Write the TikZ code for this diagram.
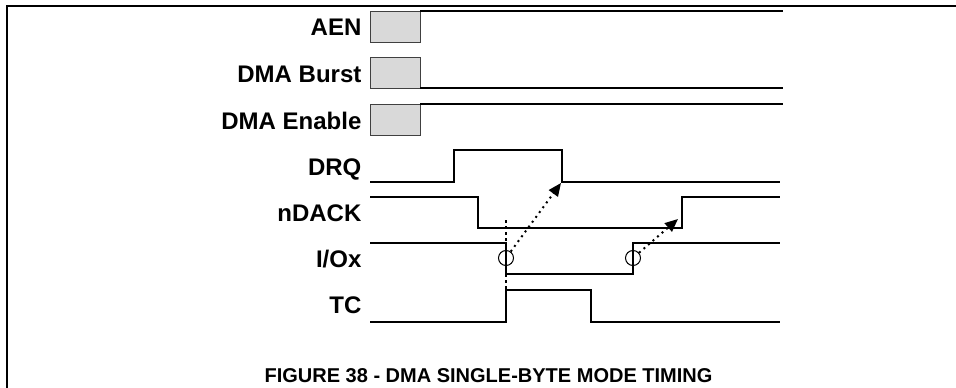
\documentclass[tikz,border=0pt]{standalone}
\usepackage{fontspec}
\setmainfont{Liberation Sans}
\usepackage{tikz}
\usetikzlibrary{arrows.meta,calc,positioning}
\usepackage{xcolor}
\definecolor{holdfill}{HTML}{D9D9D9}
\definecolor{holdline}{HTML}{404040}

\begin{document}
\begin{tikzpicture}[>={Triangle[length=13pt,width=11pt]},x=1pt,y=-1pt,line width=1.2pt,
  sig/.style={anchor=base east,inner sep=0pt,font=\fontsize{24}{26}\selectfont\bfseries},
  hold/.style={draw=holdline,fill=holdfill,line width=1pt},
  ioedge/.style={circle,draw,line width=1pt,minimum size=15pt,inner sep=0pt},
  cause/.style={->,dash pattern=on 2pt off 4pt,line width=2pt}]
  \useasboundingbox (0,0) rectangle (956,388);
  \draw[line width=2.2pt] (7,388) -- (7,6) -- (956,6);
  \node[sig] (aen) at (362,35.5) {AEN};
  \node[sig] (burst) at (362,82) {DMA Burst};
  \node[sig] (enable) at (362,129) {DMA Enable};
  \node[sig] (drq) at (362,175) {DRQ};
  \node[sig] (ndack) at (362,221) {nDACK};
  \node[sig] (iox) at (362,267) {I/Ox};
  \node[sig] (tc) at (362,313) {TC};
  \draw[hold] (370,11) rectangle (420,42);
  \draw (420,11) -- (783,11);
  \draw[hold] (370,57) rectangle (420,88);
  \draw (420,88) -- (783,88);
  \draw[hold] (370,104) rectangle (420,135);
  \draw (420,104) -- (783,104);
  \draw (370,182) -- (454,182) -- (454,150) -- (562,150) -- (562,182) -- (780,182);
  \draw (370,197) -- (478,197) -- (478,228) -- (682,228) -- (682,197) -- (780,197);
  \draw (370,243) -- (506,243) -- (506,274) -- (633,274) -- (633,243) -- (780,243);
  \draw (370,322) -- (506,322) -- (506,290) -- (591,290) -- (591,322) -- (780,322);
  \draw[dashed,line width=1.4pt] (506,220) -- (506,290);
  \node[ioedge] (ioA) at (506,258) {};
  \node[ioedge] (ioB) at (633,258) {};
  \coordinate (drqTip) at (561,183);
  \coordinate (dackTip) at (678,219);
  \draw[cause] (ioA) -- (drqTip);
  \draw[cause] (ioB) -- (dackTip);
  \node[anchor=base,inner sep=0pt,font=\fontsize{20}{22}\selectfont\bfseries] (title) at (488.5,382) {FIGURE 38 - DMA SINGLE-BYTE MODE TIMING};
\end{tikzpicture}
\end{document}
